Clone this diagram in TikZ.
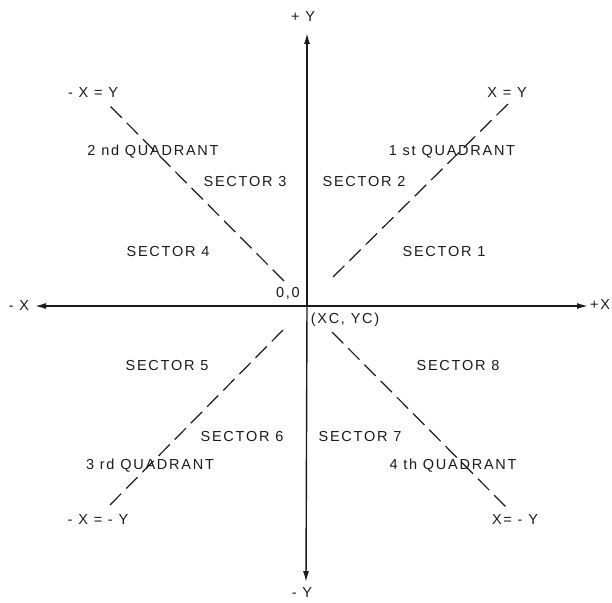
\documentclass[tikz,border=0pt]{standalone}
\usepackage{fontspec}
\newfontfamily\lblfont[LetterSpace=12]{Liberation Sans}
\usetikzlibrary{arrows.meta}
\definecolor{inkBlack}{HTML}{1A1A1A}
\tikzset{
 axisline/.style={draw=inkBlack, line width=1.4pt, -{Latex[length=11pt,width=6pt]}},
 diagline/.style={draw=inkBlack, line width=1.2pt, dash pattern=on 16pt off 7pt},
 lbl/.style={font=\lblfont\fontsize{14.5}{16}\selectfont, text=inkBlack, inner sep=0pt}
}
\newcommand{\plbl}[3]{\node[lbl] (#1) at (#2) {#3};}
\begin{document}
\begin{tikzpicture}[x=1pt, y=-1pt]
\useasboundingbox (0,0) rectangle (612,602);
% axes
\coordinate (org) at (307,306);
\coordinate (xlo) at (35,306);
\coordinate (xhi) at (588,306);
\coordinate (yhi) at (307,33);
\coordinate (ylo) at (306,582);
\draw[axisline] (org) -- (xlo);
\draw[axisline] (org) -- (xhi);
\draw[axisline] (org) -- (yhi);
\draw[axisline] (org) -- (ylo);
% diagonals
\coordinate (d1a) at (333,277);
\coordinate (d1b) at (510,102);
\coordinate (d2a) at (284,281);
\coordinate (d2b) at (107,103);
\coordinate (d3a) at (283,330);
\coordinate (d3b) at (107,508);
\coordinate (d4a) at (332,332);
\coordinate (d4b) at (508,509);
\draw[diagline] (d1a) -- (d1b);
\draw[diagline] (d2a) -- (d2b);
\draw[diagline] (d3a) -- (d3b);
\draw[diagline] (d4a) -- (d4b);
% axis labels
\plbl{py}{303,17}{+ Y}
\plbl{my}{302,593}{- Y}
\plbl{mx}{19,306}{- X}
\plbl{px}{600,305}{+X}
\plbl{o}{288,293}{0,0}
\plbl{c}{345,320}{(XC, YC)}
% diagonal labels
\plbl{e2}{93,93}{- X = Y}
\plbl{e1}{507,93}{X = Y}
\plbl{e3}{98,520}{- X = - Y}
\plbl{e4}{515,520}{X= - Y}
% quadrants
\plbl{q2}{153,152}{2 nd QUADRANT}
\plbl{q1}{452,152}{1 st QUADRANT}
\plbl{q3}{150,466}{3 rd QUADRANT}
\plbl{q4}{453,466}{4 th QUADRANT}
% sectors
\plbl{s1}{444,252}{SECTOR 1}
\plbl{s2}{364,182}{SECTOR 2}
\plbl{s3}{245,182}{SECTOR 3}
\plbl{s4}{168,252}{SECTOR 4}
\plbl{s5}{167,366}{SECTOR 5}
\plbl{s6}{242,437}{SECTOR 6}
\plbl{s7}{360,437}{SECTOR 7}
\plbl{s8}{458,366}{SECTOR 8}
\end{tikzpicture}
\end{document}
